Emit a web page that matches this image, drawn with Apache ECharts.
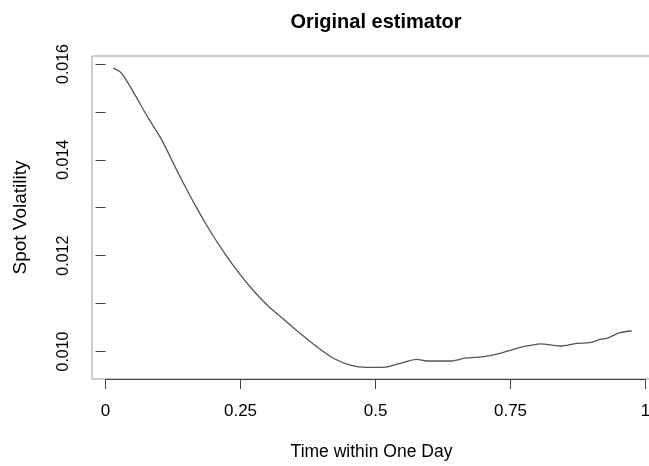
<!doctype html>
<html lang="en">
  <head>
    <meta charset="UTF-8" />
    <title>Original estimator</title>
    <script src="https://cdn.jsdelivr.net/npm/echarts@6/dist/echarts.min.js"></script>
    <style>
      html, body { margin: 0; padding: 0; background: #fff; }
    </style>
  </head>
  <body>
    <div id="chart" style="width: 649px; height: 466px"></div>
    <script>
      // time within the day (fraction) and estimated spot volatility
      const timeOfDay = [
        0.0144, 0.0269, 0.0361, 0.0546, 0.0793, 0.1041, 0.1348, 0.1657, 0.1935, 0.2213,
        0.2491, 0.2769, 0.3046, 0.3324, 0.3602, 0.3911, 0.4219, 0.4528, 0.4837, 0.5144,
        0.5454, 0.5763, 0.5948, 0.638, 0.6565, 0.6626, 0.6996, 0.7306, 0.7615, 0.7922,
        0.8046, 0.8417, 0.8726, 0.8972, 0.9157, 0.9281, 0.9528, 0.9744,
      ];
      const spotVol = [
        0.015913, 0.015836, 0.015704, 0.015356, 0.014869, 0.014416, 0.013721, 0.013059, 0.01252, 0.012036,
        0.011608, 0.011232, 0.010912, 0.010649, 0.01038, 0.0101, 0.009858, 0.009718, 0.00967, 0.00967,
        0.009754, 0.009837, 0.009802, 0.009802, 0.009837, 0.009858, 0.009891, 0.009962, 0.010067, 0.010136,
        0.010157, 0.010115, 0.010171, 0.010184, 0.010255, 0.010276, 0.010393, 0.010428,
      ];

      const xTicks = [0, 0.25, 0.5, 0.75, 1];
      const xTickLabels = ['0', '0.25', '0.5', '0.75', '1'];
      const yTicks = [0.01, 0.011, 0.012, 0.013, 0.014, 0.015, 0.016];
      const yLabelTicks = [0.01, 0.012, 0.014, 0.016];

      // plot region like R: data range padded by 4%
      const X_MIN = -0.025;
      const X_MAX = 1.0101;
      const Y_MIN = 0.009426;
      const Y_MAX = 0.016167;

      const FONT = '"Liberation Sans", Arial, Helvetica, sans-serif';

      const chart = echarts.init(document.getElementById('chart'), null, { renderer: 'canvas' });
      chart.setOption({
        animation: false,
        backgroundColor: '#fff',
        title: {
          text: 'Original estimator',
          left: 371,
          top: 7,
          textAlign: 'center',
          textStyle: { fontFamily: FONT, fontSize: 20, fontWeight: 'bold', color: '#000' },
        },
        grid: {
          left: 92,
          top: 56,
          width: 559,
          height: 323,
          outerBoundsMode: 'none',
          show: true,
          borderColor: '#9a9a9a',
          borderWidth: 1,
          backgroundColor: 'transparent',
        },
        xAxis: {
          type: 'value',
          min: X_MIN,
          max: X_MAX,
          name: 'Time within One Day',
          nameLocation: 'middle',
          nameGap: 73,
          nameTextStyle: { fontFamily: FONT, fontSize: 17.5, color: '#000', verticalAlign: 'middle' },
          axisLine: { show: false },
          splitLine: { show: false },
          axisTick: {
            show: true,
            customValues: xTicks,
            length: 10,
            lineStyle: { color: '#444', width: 1 },
          },
          axisLabel: {
            customValues: xTicks,
            margin: 24,
            fontFamily: FONT,
            fontSize: 17,
            color: '#000',
            formatter: (v) => xTickLabels[xTicks.indexOf(v)] ?? String(v),
          },
        },
        yAxis: {
          type: 'value',
          min: Y_MIN,
          max: Y_MAX,
          name: 'Spot Volatility',
          nameLocation: 'middle',
          nameGap: 71,
          nameRotate: 90,
          nameTextStyle: { fontFamily: FONT, fontSize: 19, color: '#000', verticalAlign: 'middle' },
          axisLine: { show: false },
          splitLine: { show: false },
          axisTick: {
            show: true,
            customValues: yTicks,
            length: 10,
            lineStyle: { color: '#444', width: 1 },
          },
          axisLabel: {
            customValues: yLabelTicks,
            rotate: 90,
            margin: 20,
            fontFamily: FONT,
            fontSize: 16,
            color: '#000',
            formatter: (v) => v.toFixed(3),
          },
        },
        series: [
          {
            type: 'line',
            data: timeOfDay.map((t, i) => [t, spotVol[i]]),
            smooth: 0.3,
            showSymbol: false,
            lineStyle: { color: '#555', width: 1.3 },
            markLine: {
              silent: true,
              symbol: 'none',
              animation: false,
              label: { show: false },
              lineStyle: { color: '#444', width: 1, type: 'solid' },
              data: [
                [{ coord: [xTicks[0], Y_MIN] }, { coord: [xTicks[xTicks.length - 1], Y_MIN] }],
              ],
            },
          },
        ],
      });
    </script>
  </body>
</html>
